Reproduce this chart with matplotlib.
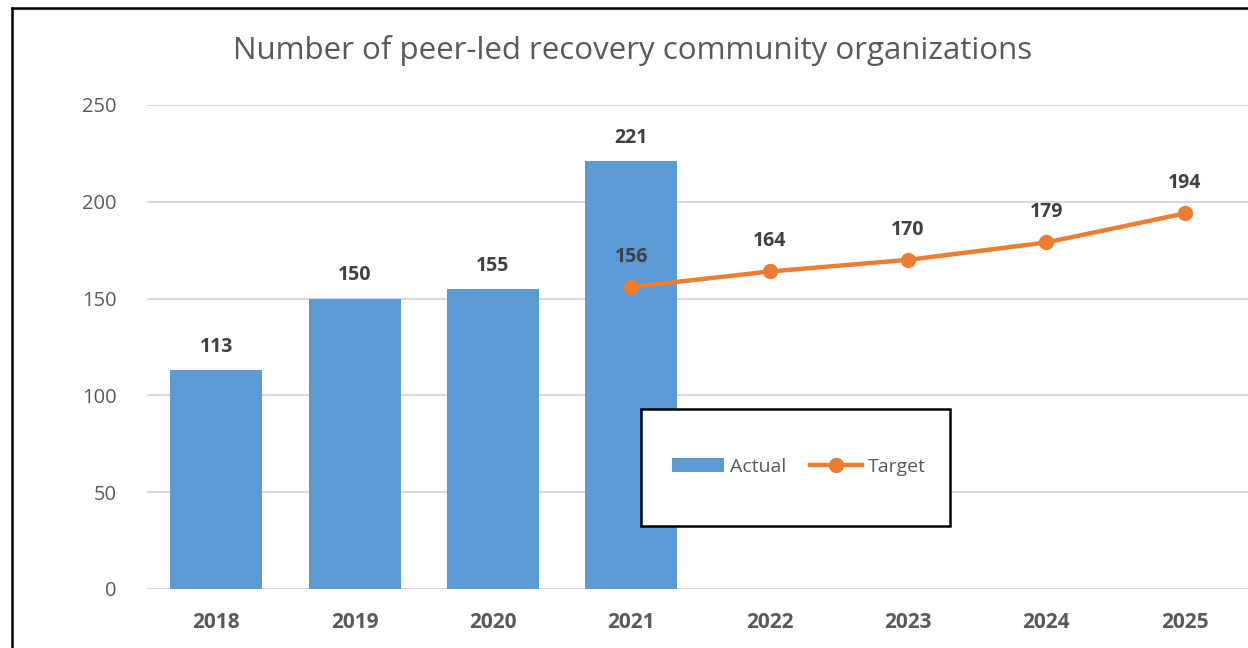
import matplotlib.pyplot as plt
from matplotlib.lines import Line2D
from matplotlib.patches import Rectangle

years = ['2018', '2019', '2020', '2021', '2022', '2023', '2024', '2025']
actual = [113, 150, 155, 221]
target_years = ['2021', '2022', '2023', '2024', '2025']
target = [156, 164, 170, 179, 194]

BAR_COLOR = '#5b9bd5'
LINE_COLOR = '#ed7d31'
TEXT_COLOR = '#595959'

plt.rcParams['font.family'] = ['Open Sans', 'DejaVu Sans']

W, H = 1248, 648
fig = plt.figure(figsize=(W / 100, H / 100), dpi=100)
ax = fig.add_axes([147 / W, 1 - 589 / H, (1254 - 147) / W, (589 - 105) / H])

x_all = list(range(len(years)))
x_act = [years.index(y) for y in years[:len(actual)]]
x_tgt = [years.index(y) for y in target_years]

bars = ax.bar(x_act, actual, width=0.665, color=BAR_COLOR, label='Actual', zorder=2)
line, = ax.plot(x_tgt, target, color=LINE_COLOR, linewidth=3.2, marker='o', markersize=10,
                label='Target', zorder=3)

for xi, v in zip(x_act, actual):
    ax.annotate(str(v), (xi, v), xytext=(0, 9.5), textcoords='offset points',
                ha='center', va='bottom', fontsize=14, fontweight='bold', color='#404040')
for xi, v in zip(x_tgt, target):
    ax.annotate(str(v), (xi, v), xytext=(0, 14.5), textcoords='offset points',
                ha='center', va='bottom', fontsize=14, fontweight='bold', color='#404040')

ax.set_xlim(-0.5, len(years) - 0.5)
ax.set_ylim(0, 250)
ax.set_yticks(range(0, 251, 50))
ax.set_xticks(x_all)
ax.set_xticklabels(years, fontweight='bold', fontsize=15)
ax.tick_params(axis='y', length=0, labelsize=14.5, colors=TEXT_COLOR, pad=22)
ax.tick_params(axis='x', length=0, colors=TEXT_COLOR, pad=16.5)
ax.grid(axis='y', color='#d9d9d9', linewidth=1.5, zorder=0)
ax.set_axisbelow(True)
for s in ax.spines.values():
    s.set_visible(False)

fig.text(633 / W, 1 - 50 / H, 'Number of peer-led recovery community organizations',
         ha='center', va='center', fontsize=22.5, color=TEXT_COLOR)

# legend box
box = Rectangle((641 / W, 1 - 526 / H), (950 - 641) / W, (526 - 409) / H,
                transform=fig.transFigure, facecolor='white', edgecolor='black',
                linewidth=1.8, zorder=4, clip_on=False)
ax.add_patch(box)
leg = ax.legend(handles=[bars, line], labels=['Actual', 'Target'],
                loc='center', bbox_to_anchor=(799 / W, 1 - 467 / H),
                bbox_transform=fig.transFigure, ncol=2, frameon=False, fontsize=14,
                handlelength=2.7, handletextpad=0.3, columnspacing=1.2)
leg.set_zorder(5)
for t in leg.get_texts():
    t.set_color(TEXT_COLOR)

# outer border (left and top edges visible)
fig.add_artist(Line2D([11.5 / W, 11.5 / W], [0, 1 - 8 / H], color='black',
                      linewidth=1.8, transform=fig.transFigure))
fig.add_artist(Line2D([11.5 / W, 1], [1 - 8 / H, 1 - 8 / H], color='black',
                      linewidth=1.8, transform=fig.transFigure))

fig.savefig('out.png', dpi=100)
